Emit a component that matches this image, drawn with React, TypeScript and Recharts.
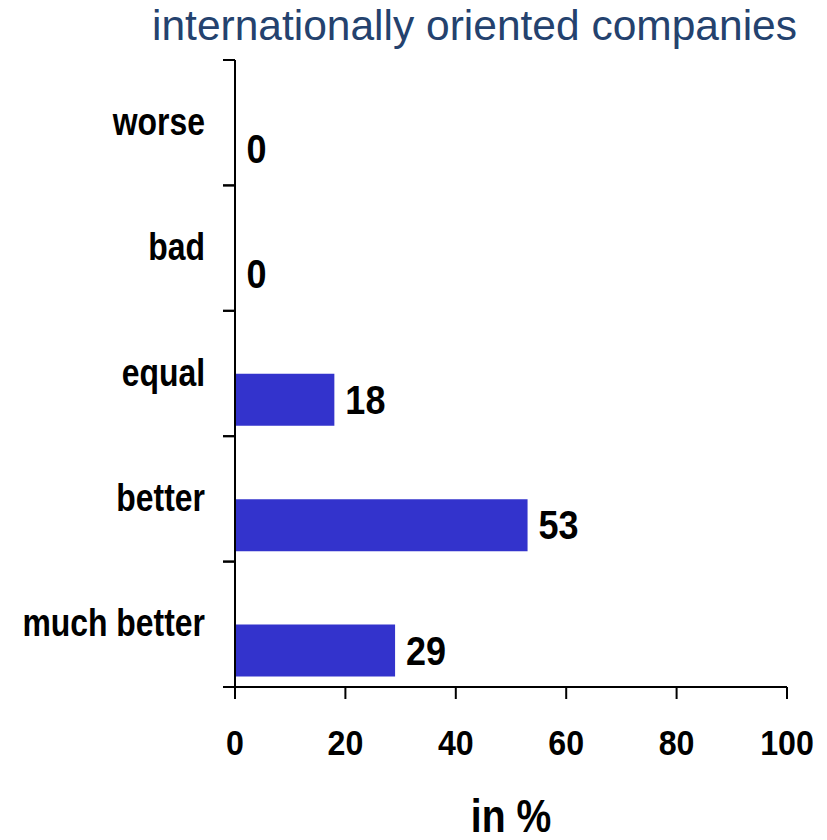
import { BarChart, Bar, XAxis, YAxis, LabelList, Label } from "recharts";

const categories = ["worse", "bad", "equal", "better", "much better"];
const shares = [0, 0, 18, 53, 29];
const xTicks = [0, 20, 40, 60, 80, 100];

const data = categories.map((name, i) => ({ name, value: shares[i] }));

const sans = "'Liberation Sans', Arial, sans-serif";
const axisStroke = { stroke: "#000", strokeWidth: 2 };

// the reference uses a condensed bold face, so squeeze Liberation Sans Bold
const Narrow = ({ x, y, size, squeeze, anchor, dy, children }: any) => (
  <text
    transform={`translate(${x},${y}) scale(${squeeze},1)`}
    textAnchor={anchor}
    dy={dy}
    fill="#000"
    fontFamily={sans}
    fontWeight={700}
    fontSize={size}
  >
    {children}
  </text>
);

const XTick = ({ x, y, payload }: any) => (
  <Narrow x={x} y={y} size={35} squeeze={0.92} anchor="middle" dy="0.71em">
    {payload.value}
  </Narrow>
);

const CAT_TICK = 6;
const CAT_MARGIN = 24;
const EDGE_TICK = 12;

const YTick = ({ x, y, payload }: any) => {
  const axisX = x + CAT_MARGIN + CAT_TICK;
  const half = payload.offset || 0;
  return (
    <g>
      <Narrow x={x} y={y} size={38} squeeze={0.84} anchor="end" dy={12}>
        {payload.value}
      </Narrow>
      <line x1={axisX - EDGE_TICK} x2={axisX} y1={y - half} y2={y - half} stroke="#000" strokeWidth={2} />
      <line x1={axisX - EDGE_TICK} x2={axisX} y1={y + half} y2={y + half} stroke="#000" strokeWidth={2} />
    </g>
  );
};

const ValueLabel = ({ x, y, width, height, value }: any) => (
  <Narrow x={x + width + 11} y={y + height / 2} size={40} squeeze={0.9} anchor="start" dy={14}>
    {value}
  </Narrow>
);

const UnitLabel = ({ viewBox }: any) => (
  <Narrow x={viewBox.x + viewBox.width / 2} y={viewBox.y + viewBox.height - 5} size={46} squeeze={0.85} anchor="middle" dy={0}>
    in %
  </Narrow>
);

export default function App() {
  return (
    <div style={{ position: "absolute", left: 0, top: 0, width: 827, height: 840 }}>
      <div
        style={{
          position: "absolute",
          top: 5,
          left: 122,
          width: 705,
          textAlign: "center",
          whiteSpace: "nowrap",
          fontFamily: sans,
          fontSize: 42.5,
          lineHeight: "42px",
          color: "#24426E",
        }}
      >
        internationally oriented companies
      </div>
      <BarChart
        layout="vertical"
        width={827}
        height={840}
        data={data}
        margin={{ top: 60, right: 40, bottom: 3, left: 15 }}
        barCategoryGap={11}
        barGap={0}
      >
        <XAxis
          type="number"
          domain={[0, 100]}
          ticks={xTicks}
          height={150}
          tickSize={12}
          tickMargin={31}
          axisLine={axisStroke}
          tickLine={axisStroke}
          tick={<XTick />}
        >
          <Label content={<UnitLabel />} />
        </XAxis>
        <YAxis
          type="category"
          dataKey="name"
          width={220}
          tickLine={false}
          tickSize={CAT_TICK}
          tickMargin={CAT_MARGIN}
          axisLine={axisStroke}
          tick={<YTick />}
        />
        {/* empty slot above each bar, like the reference's layout */}
        <Bar dataKey={(d: any) => d.value} fill="transparent" isAnimationActive={false} />
        <Bar dataKey="value" fill="#3333CC" minPointSize={0.5} isAnimationActive={false}>
          <LabelList dataKey="value" content={<ValueLabel />} />
        </Bar>
      </BarChart>
    </div>
  );
}
